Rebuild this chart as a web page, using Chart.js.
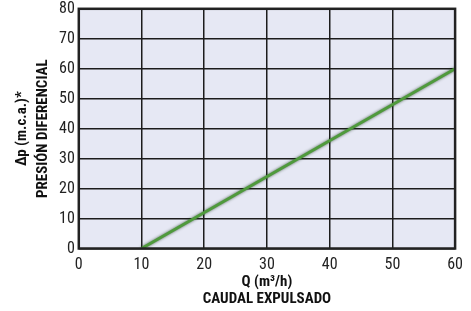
<!DOCTYPE html>
<html>
<head>
<meta charset="utf-8">
<script src="https://cdn.jsdelivr.net/npm/chart.js@4"></script>
<style>
  html, body { margin: 0; padding: 0; background: #fff; }
  #wrap { width: 471px; height: 311px; }
</style>
</head>
<body>
<div id="wrap"><canvas id="curveChart" width="471" height="311"></canvas></div>
<script>
// caudal (m3/h) vs presion diferencial (m.c.a.)
const flowValues = [10, 60];
const pressureValues = [0, 60];
const xTicks = [0, 10, 20, 30, 40, 50, 60];
const yTicks = [0, 10, 20, 30, 40, 50, 60, 70, 80];

const narrow = "'Roboto Condensed', 'DejaVu Sans Condensed', sans-serif";

// plot background + frame
const framePlugin = {
  id: "frame",
  beforeDraw(chart) {
    const { ctx, chartArea: a } = chart;
    ctx.save();
    ctx.fillStyle = "#e6e8f4";
    ctx.fillRect(a.left, a.top, a.width, a.height);
    ctx.restore();
  },
  afterDraw(chart) {
    const { ctx, chartArea: a } = chart;
    ctx.save();
    ctx.strokeStyle = "#222";
    ctx.lineWidth = 2.5;
    ctx.strokeRect(a.left, a.top, a.width, a.height);
    ctx.restore();
  },
};

// soft dark halo round the curve
const glowPlugin = {
  id: "glow",
  beforeDatasetsDraw(chart) {
    const ctx = chart.ctx;
    ctx.save();
    ctx.shadowColor = "rgba(20,50,20,0.7)";
    ctx.shadowBlur = 3;
  },
  afterDatasetsDraw(chart) {
    chart.ctx.restore();
  },
};

new Chart(document.getElementById("curveChart"), {
  type: "scatter",
  data: {
    datasets: [
      {
        data: flowValues.map((q, i) => ({ x: q, y: pressureValues[i] })),
        showLine: true,
        borderColor: "#4f9a3c",
        borderWidth: 3,
        pointRadius: 0,
        tension: 0,
      },
    ],
  },
  options: {
    responsive: false,
    animation: false,
    layout: { padding: { left: 12, right: 15, top: 8, bottom: 3 } },
    plugins: {
      legend: { display: false },
      tooltip: { enabled: false },
    },
    scales: {
      x: {
        type: "linear",
        min: xTicks[0],
        max: xTicks[xTicks.length - 1],
        afterBuildTicks: (axis) => { axis.ticks = xTicks.map((v) => ({ value: v })); },
        grid: { color: "#1c1c1c", lineWidth: 1.5, drawTicks: false },
        border: { display: false },
        ticks: { color: "#222", padding: 8, font: { family: narrow, size: 16, lineHeight: 1 } },
        title: {
          display: true,
          text: ["Q (m³/h)", "CAUDAL EXPULSADO"],
          color: "#111",
          padding: { top: -7, bottom: 0 },
          font: { family: narrow, size: 15, weight: "bold", lineHeight: 1.15 },
        },
      },
      y: {
        type: "linear",
        min: yTicks[0],
        max: yTicks[yTicks.length - 1],
        afterBuildTicks: (axis) => { axis.ticks = yTicks.map((v) => ({ value: v })); },
        grid: { color: "#1c1c1c", lineWidth: 1.5, drawTicks: false },
        border: { display: false },
        ticks: { color: "#222", padding: 4, font: { family: narrow, size: 16, lineHeight: 0.6 } },
        title: {
          display: true,
          text: ["∆p (m.c.a.)*", "PRESIÓN DIFERENCIAL"],
          color: "#111",
          padding: { top: 0, bottom: 1 },
          font: { family: narrow, size: 15, weight: "bold", lineHeight: 1.4 },
        },
      },
    },
  },
  plugins: [framePlugin, glowPlugin],
});
</script>
</body>
</html>
